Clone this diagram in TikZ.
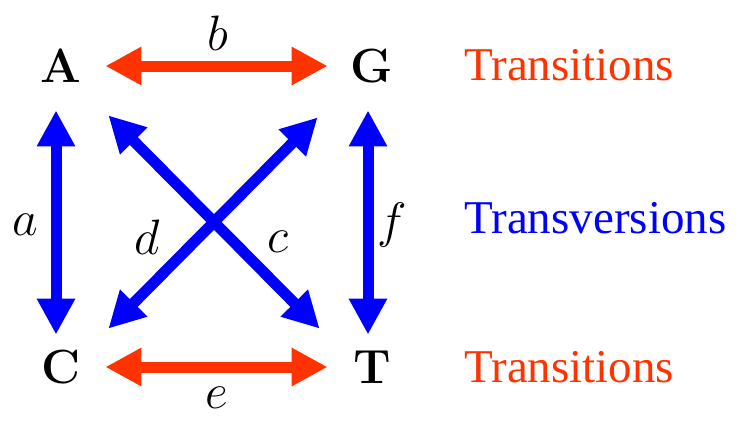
\documentclass[tikz,border=0pt]{standalone}
\usepackage{fontspec}
\usetikzlibrary{arrows.meta}
\newfontfamily\timesfont{Liberation Serif}
\definecolor{transred}{RGB}{255,51,0}
\definecolor{transblue}{RGB}{0,0,255}

\begin{document}
\begin{tikzpicture}[x=0.5pt, y=-0.5pt, >={Triangle[length=18pt, width=18pt]}]
	\tikzstyle{every node} = [font=\fontsize{24}{28}\selectfont]
	\tikzstyle{nucleo} = [rectangle, inner sep=0pt, minimum size=44pt, font=\fontsize{24}{28}\selectfont\bfseries]
	\tikzstyle{transit} = [<->, draw=transred, line width=5.5pt]
	\tikzstyle{transv} = [<->, draw=transblue, line width=5.5pt]
	\tikzstyle{legend} = [anchor=base west, inner sep=0pt, font=\fontsize{23.5}{28}\selectfont\timesfont]
	\useasboundingbox (0,0) rectangle (748,434);
	\node[nucleo] (A) at (61,66) {A};
	\node[nucleo] (G) at (372,66) {G};
	\node[nucleo] (C) at (61,367) {C};
	\node[nucleo] (T) at (372,367) {T};
	
	%Edge labels
	\node (lab_b) at (218,33) {$b$};
	\node (lab_e) at (217,398) {$e$};
	\node (lab_a) at (25,225) {$a$};
	\node (lab_d) at (147,237) {$d$};
	\node (lab_c) at (278,242) {$c$};
	\node (lab_f) at (392,225) {$f$};
	
	%Legend on the right
	\node[legend, text=transred] (leg_top) at (464,80) {Transitions};
	\node[legend, text=transblue] (leg_mid) at (464,233) {Transversions};
	\node[legend, text=transred] (leg_bot) at (464,382) {Transitions};
	
	\draw
	(A) edge[transit] (G)
	(C) edge[transit] (T)
	([xshift=-2.5pt]A.south) edge[transv, shorten >=-6pt] ([xshift=-2.5pt]C.north)
	([xshift=-2pt]G.south) edge[transv, shorten >=-6pt] ([xshift=-2pt]T.north)
	([xshift=1.5pt, yshift=-2.5pt]A.south east) edge[transv] ([xshift=-4pt, yshift=-3pt]T.north west)
	([xshift=-5pt, yshift=-3.5pt]G.south west) edge[transv] ([xshift=1.5pt, yshift=-3pt]C.north east)
	;
\end{tikzpicture}
\end{document}
